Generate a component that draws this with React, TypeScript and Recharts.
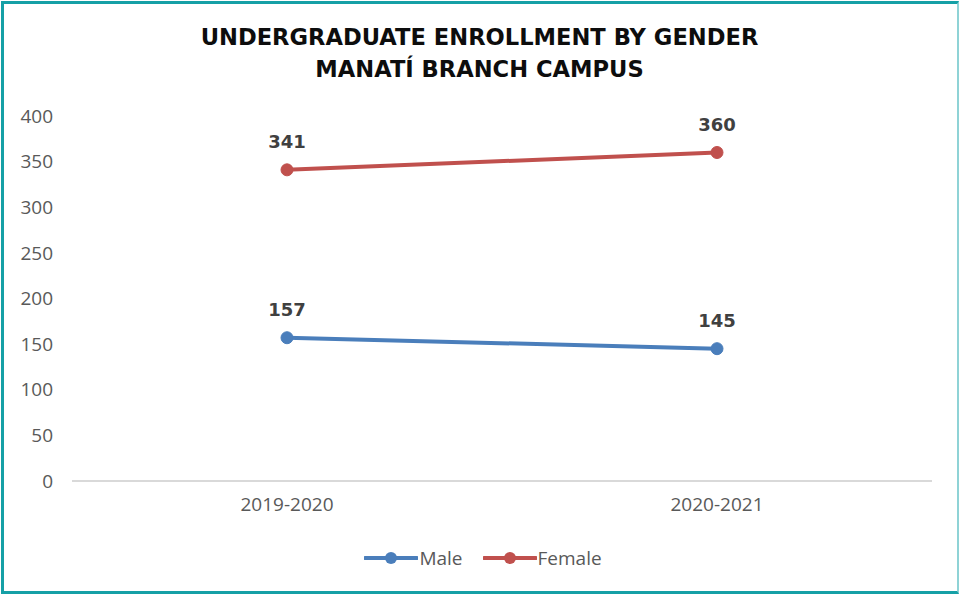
import React from 'react';
import { LineChart, Line, XAxis, YAxis, Legend, LabelList } from 'recharts';

const categories = ['2019-2020', '2020-2021'];
const maleValues = [157, 145];
const femaleValues = [341, 360];
const yTicks = [0, 50, 100, 150, 200, 250, 300, 350, 400];
const titleLines = ['UNDERGRADUATE ENROLLMENT BY GENDER', 'MANATÍ BRANCH CAMPUS'];
const seriesNames = ['Male', 'Female'];

const MALE = '#4a7ebb';
const FEMALE = '#c0504d';
const seriesColors: Record<string, string> = { Male: MALE, Female: FEMALE };
const TICK_FONT = "'Open Sans', sans-serif";
const TITLE_FONT = "'DejaVu Sans', sans-serif";

const data = categories.map((c, i) => ({ category: c, Male: maleValues[i], Female: femaleValues[i] }));

const LegendContent = () => {
  return (
    <div style={{ display: 'flex', justifyContent: 'center', alignItems: 'center', height: 40, gap: 20, paddingLeft: 34 }}>
      {seriesNames.map((name) => (
        <div key={name} style={{ display: 'flex', alignItems: 'center' }}>
          <svg width={54} height={14}>
            <line x1={1} y1={7} x2={53} y2={7} stroke={seriesColors[name]} strokeWidth={4} strokeLinecap="round" />
            <circle cx={27} cy={7} r={6} fill={seriesColors[name]} />
          </svg>
          <span style={{ fontFamily: TICK_FONT, fontSize: 19, color: '#595959', marginLeft: 1 }}>{name}</span>
        </div>
      ))}
    </div>
  );
};

export default function App() {
  return (
    <div style={{ position: 'absolute', left: 0, top: 0, width: 959, height: 594, background: '#fff' }}>
      <div
        style={{
          position: 'absolute', left: 1, top: 1, width: 958, height: 593, boxSizing: 'border-box',
          borderTop: '3px solid #15a0a6', borderLeft: '3px solid #15a0a6', borderBottom: '3px solid #15a0a6',
          borderRight: '2px solid #8fd3d6',
        }}
      />
      <div
        style={{
          position: 'absolute', left: 0, top: 21, width: 959, textAlign: 'center',
          fontFamily: TITLE_FONT, fontWeight: 'bold', fontSize: 22.6, lineHeight: '32px', color: '#0d0d0d',
        }}
      >
        {titleLines.map((t) => (
          <div key={t}>{t}</div>
        ))}
      </div>
      <div style={{ position: 'absolute', left: 0, top: 0 }}>
        <LineChart width={959} height={594} data={data} margin={{ top: 116, right: 27, left: 0, bottom: 16 }}>
          <XAxis
            dataKey="category"
            padding={{ left: 215, right: 215 }}
            tickLine={false}
            axisLine={{ stroke: '#d9d9d9', strokeWidth: 2 }}
            tick={{ fill: '#595959', fontSize: 19, fontFamily: TICK_FONT }}
            tickSize={0}
            tickMargin={17}
            height={57}
          />
          <YAxis
            domain={[0, 400]}
            ticks={yTicks}
            width={72}
            axisLine={false}
            tickLine={false}
            tickSize={0}
            tickMargin={19}
            tick={{ fill: '#595959', fontSize: 19, fontFamily: TICK_FONT }}
          />
          <Legend verticalAlign="bottom" height={40} content={<LegendContent />} />
          <Line
            type="linear"
            dataKey="Male"
            stroke={MALE}
            strokeWidth={4}
            dot={{ r: 6, fill: MALE, stroke: MALE, strokeWidth: 1 }}
            isAnimationActive={false}
          >
            <LabelList dataKey="Male" position="top" offset={22} fill="#404040" fontSize={18} fontWeight="bold" fontFamily={TITLE_FONT} />
          </Line>
          <Line
            type="linear"
            dataKey="Female"
            stroke={FEMALE}
            strokeWidth={4}
            dot={{ r: 6, fill: FEMALE, stroke: FEMALE, strokeWidth: 1 }}
            isAnimationActive={false}
          >
            <LabelList dataKey="Female" position="top" offset={22} fill="#404040" fontSize={18} fontWeight="bold" fontFamily={TITLE_FONT} />
          </Line>
        </LineChart>
      </div>
    </div>
  );
}
